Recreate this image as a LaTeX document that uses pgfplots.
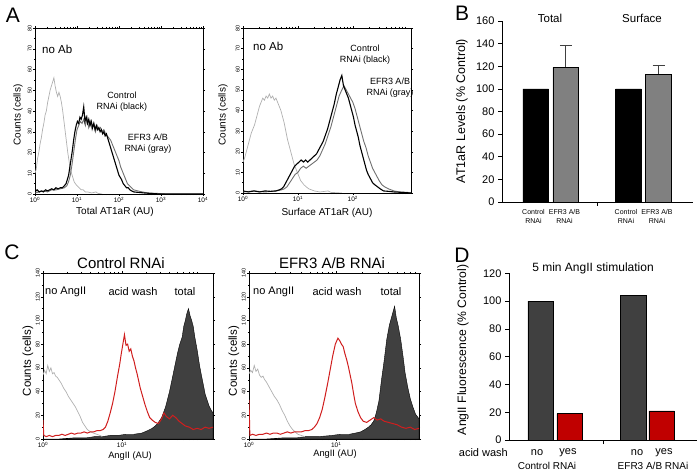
\documentclass[border=0pt]{standalone}
\usepackage{pgfplots}
\pgfplotsset{compat=1.18}
\usepackage{fontspec}
\setmainfont{Liberation Sans}
\definecolor{lg}{HTML}{B0B0B0}
\definecolor{mg}{HTML}{707070}
\definecolor{redl}{HTML}{D01E1E}
\definecolor{dk}{HTML}{404040}
\definecolor{barg}{HTML}{808080}
\definecolor{barred}{HTML}{C00000}
\newcommand{\fs}[2]{\fontsize{#1pt}{#2pt}\selectfont}
\pgfplotsset{
 hist/.style={scale only axis, xmin=0, ymin=0,
  axis line style={black, line width=0.5pt},
  tick align=outside, major tick length=2pt, minor tick length=1.2pt,
  every tick/.style={black, line width=0.4pt},
  yticklabel style={rotate=90, anchor=south, inner sep=1pt, font=\fs{5.5}{6}},
  xticklabel style={inner sep=1pt, font=\fs{6.5}{7}},
  /pgf/number format/assume math mode=true},
 barax/.style={scale only axis, axis lines*=left, xmin=0, ymin=0,
  axis line style={black, line width=0.6pt},
  tick align=outside, major tick length=4pt,
  every tick/.style={black, line width=0.6pt},
  tick label style={font=\fs{11}{12}},
  /pgf/number format/assume math mode=true, clip=false}
}
\begin{document}
\begin{tikzpicture}[x=1pt,y=1pt]
\path[use as bounding box] (0,0) rectangle (698,474);

% ---------------- Panel A1
\begin{axis}[hist, at={(35pt,280pt)}, anchor=south west, width=168pt, height=166pt,
  xmax=4, ymax=80, xtick={0,1,2,3,4},
  xticklabels={10\textsuperscript{0},10\textsuperscript{1},10\textsuperscript{2},10\textsuperscript{3},10\textsuperscript{4}},
  minor xtick={0.301,0.477,0.602,0.699,0.778,0.845,0.903,0.954,1.301,1.477,1.602,1.699,1.778,1.845,1.903,1.954,2.301,2.477,2.602,2.699,2.778,2.845,2.903,2.954,3.301,3.477,3.602,3.699,3.778,3.845,3.903,3.954},
  ytick={0,10,...,80}, minor y tick num=1]
\addplot[lg, line width=0.7pt] coordinates {(0.00,10) (0.03,12) (0.06,17) (0.09,20) (0.12,24) (0.15,27) (0.18,31) (0.21,34) (0.24,38) (0.27,40) (0.30,44) (0.33,47) (0.36,50) (0.39,52) (0.42,54) (0.45,56) (0.48,52) (0.51,49) (0.54,47) (0.57,49) (0.60,47) (0.63,44) (0.66,40) (0.69,35) (0.72,30) (0.75,25) (0.78,20) (0.81,16) (0.84,12) (0.87,10) (0.90,8) (0.93,6) (0.96,5) (1.00,4) (1.05,3) (1.10,2) (1.15,2) (1.20,1) (1.25,1) (1.35,0.5) (1.45,1) (1.5,0.3) (1.6,0)};
\addplot[mg, line width=0.9pt] coordinates {(0.00,0.5) (0.10,1) (0.20,1.5) (0.30,1) (0.40,2) (0.50,2) (0.60,2.5) (0.70,3) (0.76,4) (0.80,6) (0.84,9) (0.88,14) (0.92,20) (0.96,26) (1.00,31) (1.04,33) (1.08,35) (1.12,34) (1.16,36) (1.20,33) (1.24,37) (1.28,32) (1.32,35) (1.36,31) (1.40,34) (1.44,30) (1.48,33) (1.52,31) (1.56,32) (1.60,30) (1.64,31) (1.68,29) (1.72,28) (1.76,27) (1.80,26) (1.84,24) (1.88,22) (1.92,20) (1.96,18) (2.00,16) (2.04,13) (2.08,11) (2.12,9) (2.16,7) (2.20,5) (2.25,4) (2.30,3) (2.35,2) (2.45,1.5) (2.55,1) (2.7,0.5) (2.9,0.3) (3.1,0) (4.0,0)};
\addplot[black, line width=1.1pt] coordinates {(0.00,1) (0.05,2) (0.10,1) (0.15,1.5) (0.20,1) (0.25,2) (0.30,1.5) (0.35,2) (0.40,2.5) (0.45,2) (0.50,3) (0.55,2.5) (0.60,3) (0.65,3) (0.70,4) (0.74,5) (0.77,7) (0.80,9) (0.83,13) (0.86,17) (0.89,21) (0.92,26) (0.95,30) (0.98,33) (1.01,35) (1.04,34) (1.07,37) (1.10,36) (1.13,38) (1.16,42) (1.19,35) (1.22,37) (1.25,34) (1.28,36) (1.31,33) (1.34,35) (1.37,32) (1.40,34) (1.43,31) (1.46,33) (1.49,31) (1.52,32) (1.55,30) (1.58,31) (1.61,29) (1.64,30) (1.67,28) (1.70,29) (1.73,27) (1.76,25) (1.79,23) (1.82,21) (1.85,19) (1.88,17) (1.91,15) (1.94,13) (1.97,11) (2.00,9) (2.03,8) (2.06,7) (2.10,5) (2.14,4) (2.18,3) (2.22,3) (2.26,2) (2.30,1.5) (2.35,1) (2.45,0.8) (2.6,0.5) (2.8,0.2) (3.0,0) (4.0,0)};
\end{axis}

% ---------------- Panel A2
\begin{axis}[hist, at={(243pt,281pt)}, anchor=south west, width=168pt, height=165pt,
  xmax=3.06, ymax=80, xtick={0,1,2},
  xticklabels={10\textsuperscript{0},10\textsuperscript{1},10\textsuperscript{2}},
  minor xtick={0.301,0.477,0.602,0.699,0.778,0.845,0.903,0.954,1.301,1.477,1.602,1.699,1.778,1.845,1.903,1.954,2.301,2.477,2.602,2.699,2.778,2.845,2.903,2.954},
  ytick={0,10,...,80}, minor y tick num=1]
\addplot[lg, line width=0.7pt] coordinates {(0.00,15) (0.03,17) (0.06,20) (0.09,23) (0.12,26) (0.15,29) (0.18,31) (0.21,33) (0.24,36) (0.27,39) (0.30,42) (0.33,44) (0.36,46) (0.39,45) (0.42,47) (0.45,46) (0.48,48) (0.51,46) (0.54,47) (0.57,45) (0.60,46) (0.63,44) (0.66,42) (0.69,40) (0.72,37) (0.75,34) (0.78,30) (0.81,26) (0.84,23) (0.87,20) (0.90,17) (0.93,14) (0.96,12) (0.99,10) (1.02,8) (1.05,6) (1.08,5) (1.11,4) (1.15,3) (1.20,2) (1.25,1.5) (1.30,1) (1.40,0.5) (1.55,1) (1.6,0.3) (1.8,0)};
\addplot[mg, line width=0.9pt] coordinates {(0.00,0.5) (0.20,1) (0.40,0.5) (0.60,1) (0.70,1.5) (0.75,2) (0.80,3) (0.85,5) (0.90,7) (0.95,9) (1.00,10) (1.05,12) (1.10,13) (1.15,12) (1.20,13) (1.25,14) (1.30,15) (1.35,16) (1.40,18) (1.45,21) (1.50,24) (1.55,28) (1.60,32) (1.65,37) (1.70,42) (1.75,47) (1.80,50) (1.84,52) (1.88,50) (1.92,48) (1.96,46) (2.00,44) (2.04,41) (2.08,37) (2.12,33) (2.16,29) (2.20,25) (2.24,22) (2.28,18) (2.32,15) (2.36,12) (2.40,10) (2.44,8) (2.48,6) (2.53,4) (2.58,3) (2.65,2) (2.75,1) (2.85,0.5) (3.0,0.3) (3.06,0)};
\addplot[black, line width=1.1pt] coordinates {(0.00,1) (0.10,0.5) (0.20,1) (0.30,0.5) (0.40,1) (0.50,0.8) (0.60,1) (0.66,1.5) (0.70,2) (0.74,3) (0.78,5) (0.82,7) (0.86,9) (0.90,11) (0.94,13) (0.98,14) (1.02,15) (1.06,16) (1.10,15) (1.14,16) (1.18,15) (1.22,16) (1.26,17) (1.30,18) (1.34,19) (1.38,21) (1.42,23) (1.46,25) (1.50,28) (1.54,31) (1.58,35) (1.62,39) (1.66,43) (1.70,48) (1.74,52) (1.77,55) (1.80,57) (1.83,52) (1.86,50) (1.89,48) (1.92,46) (1.95,43) (1.98,40) (2.01,37) (2.04,33) (2.07,30) (2.10,27) (2.13,23) (2.16,20) (2.19,17) (2.22,14) (2.25,11) (2.28,9) (2.32,7) (2.36,5) (2.40,4) (2.45,3) (2.50,2) (2.56,1) (2.65,0.8) (2.75,0.5) (2.9,0.3) (3.06,0)};
\end{axis}

% ---------------- Panel B
\begin{axis}[barax, at={(502pt,272pt)}, anchor=south west, width=191pt, height=181pt,
  xmax=191, ymax=160, ytick={0,20,...,160}, xtick={95}, xticklabels={}]
\addplot[ybar, bar width=25.7pt, bar shift=0pt, fill=black, draw=black] coordinates {(33.8,100) (126.5,100)};
\addplot[ybar, bar width=25.7pt, bar shift=0pt, fill=barg, draw=black, line width=0.4pt,
  error bars/.cd, y dir=plus, y explicit,
  error bar style={line width=1.1pt, color=dk},
  error mark options={rotate=90, mark size=6pt, line width=1.1pt, color=dk}]
  coordinates {(63.8,119) +- (0,19) (156.5,113) +- (0,8)};
\end{axis}

% ---------------- Panel C1
\begin{axis}[hist, at={(43pt,35pt)}, anchor=south west, width=170pt, height=166pt,
  xmax=2.15, ymax=140, xtick={0,1},
  xticklabels={10\textsuperscript{0},10\textsuperscript{1}},
  minor xtick={0.301,0.477,0.602,0.699,0.778,0.845,0.903,0.954,1.301,1.477,1.602,1.699,1.778,1.845,1.903,1.954},
  ytick={0,20,...,140}, minor y tick num=1]
\addplot[fill=dk, draw=black, line width=0.4pt] coordinates {(0.00,0) (0.20,0) (0.40,1) (0.55,1) (0.65,2) (0.75,2) (0.85,3) (0.95,3) (1.05,4) (1.15,4) (1.25,5) (1.32,7) (1.38,9) (1.42,11) (1.46,14) (1.50,18) (1.55,27) (1.60,40) (1.65,56) (1.70,72) (1.73,80) (1.76,86) (1.78,95) (1.80,100) (1.82,106) (1.84,110) (1.86,104) (1.88,100) (1.90,95) (1.92,86) (1.95,75) (1.98,62) (2.00,55) (2.03,45) (2.05,38) (2.08,32) (2.10,28) (2.13,24) (2.15,22)} \closedcycle;
\addplot[lg, line width=0.7pt] coordinates {(0.00,54) (0.02,58) (0.04,55) (0.06,62) (0.08,57) (0.10,60) (0.12,55) (0.14,56) (0.16,53) (0.18,52) (0.20,50) (0.23,47) (0.26,43) (0.29,40) (0.32,36) (0.35,33) (0.38,30) (0.41,27) (0.44,23) (0.47,19) (0.50,14) (0.53,11) (0.56,8) (0.60,6) (0.64,5) (0.68,4) (0.72,3) (0.75,2)};
\addplot[redl, line width=1pt] coordinates {(0.00,16) (0.01,3) (0.04,2) (0.08,3) (0.12,2) (0.16,3) (0.20,3) (0.24,4) (0.28,3) (0.32,4) (0.36,5) (0.40,4) (0.44,5) (0.48,5) (0.52,6) (0.56,5) (0.60,6) (0.64,6) (0.68,7) (0.72,7) (0.76,8) (0.79,10) (0.82,15) (0.85,22) (0.88,30) (0.91,40) (0.94,52) (0.97,63) (0.99,72) (1.01,80) (1.03,88) (1.05,79) (1.07,80) (1.09,74) (1.11,76) (1.13,70) (1.15,66) (1.17,60) (1.19,55) (1.21,49) (1.23,43) (1.26,36) (1.29,29) (1.32,23) (1.35,18) (1.38,16) (1.42,14) (1.46,13) (1.50,17) (1.53,22) (1.56,19) (1.60,17) (1.64,20) (1.68,18) (1.72,15) (1.76,13) (1.80,11) (1.85,10) (1.90,8) (1.95,9) (2.00,8) (2.05,10) (2.10,9) (2.15,10)};
\end{axis}

% ---------------- Panel C2
\begin{axis}[hist, at={(249pt,35pt)}, anchor=south west, width=170pt, height=166pt,
  xmax=1.95, ymax=140, xtick={0,1},
  xticklabels={10\textsuperscript{0},10\textsuperscript{1}},
  minor xtick={0.301,0.477,0.602,0.699,0.778,0.845,0.903,0.954,1.301,1.477,1.602,1.699,1.778,1.845,1.903},
  ytick={0,20,...,140}, minor y tick num=1]
\addplot[fill=dk, draw=black, line width=0.4pt] coordinates {(0.00,0) (0.20,0) (0.40,1) (0.55,1) (0.65,2) (0.80,2) (0.95,3) (1.05,4) (1.15,4) (1.22,5) (1.28,6) (1.33,8) (1.37,10) (1.40,12) (1.43,15) (1.46,22) (1.49,32) (1.52,50) (1.55,66) (1.58,84) (1.61,96) (1.64,104) (1.67,112) (1.69,102) (1.71,96) (1.74,84) (1.77,68) (1.79,56) (1.82,44) (1.85,34) (1.88,27) (1.91,21) (1.95,17)} \closedcycle;
\addplot[lg, line width=0.7pt] coordinates {(0.00,55) (0.02,58) (0.04,56) (0.06,62) (0.08,57) (0.10,59) (0.12,54) (0.14,52) (0.16,53) (0.18,50) (0.20,48) (0.23,44) (0.26,40) (0.29,36) (0.32,33) (0.35,29) (0.38,24) (0.41,20) (0.44,15) (0.47,11) (0.50,8) (0.53,6) (0.56,4) (0.60,3) (0.64,2)};
\addplot[redl, line width=1pt] coordinates {(0.00,33) (0.01,3) (0.04,4) (0.08,3) (0.12,4) (0.16,4) (0.20,5) (0.24,4) (0.28,5) (0.32,5) (0.36,4) (0.40,5) (0.44,6) (0.48,5) (0.52,6) (0.56,6) (0.60,6) (0.64,7) (0.68,7) (0.72,8) (0.75,10) (0.78,13) (0.81,18) (0.84,25) (0.87,35) (0.90,46) (0.93,58) (0.96,70) (0.99,80) (1.02,85) (1.04,83) (1.06,80) (1.08,78) (1.10,72) (1.12,67) (1.14,61) (1.16,54) (1.18,47) (1.20,38) (1.22,30) (1.25,23) (1.28,18) (1.31,15) (1.35,14) (1.39,16) (1.43,18) (1.47,16) (1.51,17) (1.55,15) (1.60,14) (1.65,13) (1.70,12) (1.75,10) (1.80,9) (1.85,10) (1.90,8) (1.95,9)};
\end{axis}

% ---------------- Panel D
\begin{axis}[barax, at={(509pt,34pt)}, anchor=south west, width=188pt, height=166.7pt,
  xmax=188, ymax=120, ytick={0,20,...,120}, xtick={94.3}, xticklabels={}]
\addplot[ybar, bar width=25.5pt, bar shift=0pt, fill=dk, draw=black, line width=0.4pt] coordinates {(31.5,100) (124.2,104)};
\addplot[ybar, bar width=25.5pt, bar shift=0pt, fill=barred, draw=black, line width=0.4pt] coordinates {(60.5,19) (152.7,21)};
\end{axis}

% ---------------- Text
\tikzset{lab/.style={inner sep=0pt, align=center}}
% panel letters
\node[lab, font=\fs{21}{22}] at (13,459) {A};
\node[lab, font=\fs{21}{22}] at (462,461) {B};
\node[lab, font=\fs{21}{22}] at (12,221.5) {C};
\node[lab, font=\fs{21}{22}] at (462,218.5) {D};
% A1
\node[lab, anchor=west, font=\fs{11.5}{12}] at (42,425) {no Ab};
\node[lab, font=\fs{9}{11}] at (122,372) {Control\\RNAi (black)};
\node[lab, font=\fs{9}{11}] at (148,330) {EFR3 A/B\\RNAi (gray)};
\node[lab, rotate=90, font=\fs{10}{11}] at (18,359) {Counts (cells)};
\node[lab, font=\fs{10}{11}] at (115,262) {Total AT1aR (AU)};
% A2
\node[lab, anchor=west, font=\fs{11.5}{12}] at (253,428) {no Ab};
\node[lab, font=\fs{9}{11}] at (365,419) {Control\\RNAi (black)};
\node[lab, font=\fs{9}{11}] at (390,386) {EFR3 A/B\\RNAi (gray)};
\node[lab, rotate=90, font=\fs{10}{11}] at (223,359) {Counts (cells)};
\node[lab, font=\fs{10}{11}] at (327,261) {Surface AT1aR (AU)};
% B
\node[lab, font=\fs{11.5}{12}] at (550,456) {Total};
\node[lab, font=\fs{11.5}{12}] at (642,456) {Surface};
\node[lab, rotate=90, font=\fs{12.5}{13}] at (462,363) {AT1aR Levels (\% Control)};
\node[lab, font=\fs{7}{9.5}] at (533.5,257.5) {Control\\RNAi};
\node[lab, font=\fs{7}{9.5}] at (564.5,257.5) {EFR3 A/B\\RNAi};
\node[lab, font=\fs{7}{9.5}] at (626,257.5) {Control\\RNAi};
\node[lab, font=\fs{7}{9.5}] at (657,257.5) {EFR3 A/B\\RNAi};
% C
\node[lab, font=\fs{15}{16}] at (121,211) {Control RNAi};
\node[lab, font=\fs{15}{16}] at (332,211) {EFR3 A/B RNAi};
\node[lab, anchor=west, font=\fs{11}{12}] at (45,182) {no AngII};
\node[lab, font=\fs{11}{12}] at (133,182) {acid wash};
\node[lab, font=\fs{11}{12}] at (185,182) {total};
\node[lab, anchor=west, font=\fs{11}{12}] at (253,182) {no AngII};
\node[lab, font=\fs{11}{12}] at (337,182) {acid wash};
\node[lab, font=\fs{11}{12}] at (391,182) {total};
\node[lab, rotate=90, font=\fs{11.5}{12}] at (28,113) {Counts (cells)};
\node[lab, rotate=90, font=\fs{11.5}{12}] at (234,113) {Counts (cells)};
\node[lab, font=\fs{9.3}{10}] at (130,18) {AngII (AU)};
\node[lab, font=\fs{9.3}{10}] at (335,20) {AngII (AU)};
% D
\node[lab, font=\fs{12}{13}] at (593,206) {5 min AngII stimulation};
\node[lab, rotate=90, font=\fs{12.2}{13}] at (463,124) {AngII Fluorescence (\% Control)};
\node[lab, anchor=east, font=\fs{11}{12}] at (508,21) {acid wash};
\node[lab, font=\fs{11}{12}] at (537,21) {no};
\node[lab, font=\fs{11}{12}] at (568,21) {yes};
\node[lab, font=\fs{11}{12}] at (637,21) {no};
\node[lab, font=\fs{11}{12}] at (664,21) {yes};
\node[lab, font=\fs{10}{11}] at (547,8) {Control RNAi};
\node[lab, font=\fs{10}{11}] at (653,8) {EFR3 A/B RNAi};
\end{tikzpicture}
\end{document}
